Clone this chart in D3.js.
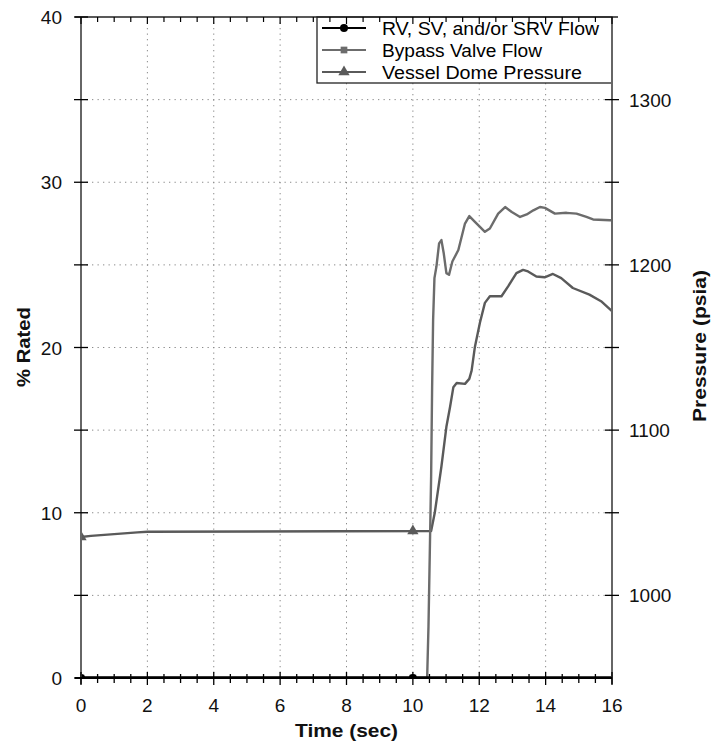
<!DOCTYPE html>
<html><head><meta charset="utf-8">
<script src="https://cdn.jsdelivr.net/npm/d3@7"></script>
<style>body{margin:0;background:#fff}svg{display:block}text{font-family:"Liberation Sans",Arial,sans-serif}</style>
</head><body>
<script>
// ---- data ----
const seriesNames = ["RV, SV, and/or SRV Flow", "Bypass Valve Flow", "Vessel Dome Pressure"];
const xTicks = [0,2,4,6,8,10,12,14,16];
const yLeftTicks = [0,10,20,30,40];
const yRightTicks = [1000,1100,1200,1300];
const markerTimes = [0,10];

const rvFlow = [[0,0],[16,0]];
const bypassFlow = [[0,0],[10.43,0],[10.47,3.1],[10.51,7.6],[10.55,12.2],[10.58,17.6],[10.61,21.7],[10.65,24.2],[10.71,24.9],[10.79,26.3],[10.86,26.5],[10.93,25.7],[11.01,24.5],[11.09,24.4],[11.19,25.2],[11.37,25.9],[11.57,27.5],[11.70,27.95],[11.87,27.6],[12.17,27.0],[12.32,27.2],[12.57,28.1],[12.78,28.5],[12.98,28.2],[13.23,27.9],[13.43,28.05],[13.63,28.3],[13.83,28.5],[13.98,28.45],[14.28,28.1],[14.63,28.15],[14.93,28.1],[15.23,27.9],[15.43,27.75],[15.94,27.7],[16,27.7]];
const domePressure = [[0,1035.3],[0.3,1036],[1.7,1038.1],[2,1038.5],[10.55,1039],[10.66,1050],[10.86,1078],[11.01,1102],[11.12,1114],[11.22,1126],[11.32,1128.5],[11.57,1128],[11.7,1131],[11.77,1136],[11.87,1150.5],[12.02,1165],[12.17,1177],[12.32,1181],[12.67,1181],[12.87,1187],[13.12,1195],[13.32,1197],[13.47,1196],[13.72,1193],[13.97,1192.5],[14.22,1194.5],[14.47,1192],[14.82,1186],[15.32,1182],[15.67,1178],[16,1172]];

// ---- layout ----
const W=720,H=747, L=81,R=612,T=17,B=678;
const svg=d3.select("body").append("svg").attr("width",W).attr("height",H);
const x=d3.scaleLinear().domain([0,16]).range([L,R]);
const yL=d3.scaleLinear().domain([0,40]).range([B,T]);
const yR=d3.scaleLinear().domain([950,1350]).range([B,T]);

svg.append("defs").append("clipPath").attr("id","clip").append("rect").attr("x",L).attr("y",T).attr("width",R-L).attr("height",B-T);

// grid
const grid=svg.append("g").attr("stroke","#8a8a8a").attr("stroke-width",1).attr("stroke-dasharray","1.3,4.2");
d3.range(2,16,2).forEach(v=>grid.append("line").attr("x1",x(v)).attr("x2",x(v)).attr("y1",T).attr("y2",B));
d3.range(5,40,5).forEach(v=>grid.append("line").attr("x1",L).attr("x2",R).attr("y1",yL(v)).attr("y2",yL(v)));

// series
const gS=svg.append("g").attr("clip-path","url(#clip)");
const lineL=d3.line().x(d=>x(d[0])).y(d=>yL(d[1]));
const lineR=d3.line().x(d=>x(d[0])).y(d=>yR(d[1]));
const colBypass="#6c6c6c", colPress="#5a5a5a";
gS.append("path").datum(domePressure).attr("d",lineR).attr("fill","none").attr("stroke",colPress).attr("stroke-width",2.4).attr("stroke-linejoin","round");
gS.append("path").datum(bypassFlow).attr("d",lineL).attr("fill","none").attr("stroke",colBypass).attr("stroke-width",2.4).attr("stroke-linejoin","round");
const interp=(arr,t)=>{for(let i=1;i<arr.length;i++){if(t<=arr[i][0]){const a=arr[i-1],b=arr[i];return a[1]+(b[1]-a[1])*(t-a[0])/(b[0]-a[0]);}}return arr[arr.length-1][1];};
const tri=d3.symbol().type(d3.symbolTriangle).size(55);
const sq=d3.symbol().type(d3.symbolSquare).size(45);
const circ=d3.symbol().type(d3.symbolCircle).size(50);
markerTimes.forEach(t=>{
  gS.append("path").attr("d",tri).attr("fill",colPress).attr("transform",`translate(${x(t)},${yR(interp(domePressure,t))})`);
  gS.append("path").attr("d",sq).attr("fill",colBypass).attr("transform",`translate(${x(t)},${yL(interp(bypassFlow,t))})`);
});
gS.append("path").datum(rvFlow).attr("d",lineL).attr("fill","none").attr("stroke","#000").attr("stroke-width",3.5);
markerTimes.forEach(t=>{
  gS.append("path").attr("d",circ).attr("fill","#000").attr("transform",`translate(${x(t)},${yL(0)})`);
});

// legend
const lg=svg.append("g");
lg.append("rect").attr("x",317).attr("y",T).attr("width",R-317).attr("height",66).attr("fill","#fff").attr("stroke","#222").attr("stroke-width",1.3);
const legCols=["#000",colBypass,colPress];
const legSyms=[circ,sq,tri];
const legLens=[217,160,200];
seriesNames.forEach((n,i)=>{
  const yy=28+i*22;
  lg.append("line").attr("x1",322).attr("x2",366).attr("y1",yy).attr("y2",yy).attr("stroke",legCols[i]).attr("stroke-width",i===0?2.2:2);
  lg.append("path").attr("d",legSyms[i]).attr("fill",legCols[i]).attr("transform",`translate(344,${yy})`);
  lg.append("text").attr("x",382).attr("y",yy+6.5).attr("font-size",17.5).attr("fill","#000")
    .attr("textLength",legLens[i]).attr("lengthAdjust","spacingAndGlyphs").text(n);
});

// axes lines
const ax=svg.append("g");
ax.append("line").attr("x1",L).attr("x2",L).attr("y1",T).attr("y2",B+6).attr("stroke","#666").attr("stroke-width",2);
ax.append("line").attr("x1",R).attr("x2",R).attr("y1",T).attr("y2",B+6).attr("stroke","#666").attr("stroke-width",2);
ax.append("line").attr("x1",L-6).attr("x2",R+6).attr("y1",T).attr("y2",T).attr("stroke","#222").attr("stroke-width",1.5);
ax.append("line").attr("x1",L-6).attr("x2",R).attr("y1",B).attr("y2",B).attr("stroke","#000").attr("stroke-width",2);

// ticks
d3.range(0,16.01,0.5).forEach(v=>{
  const major=Math.abs(v%2)<1e-6;
  ax.append("line").attr("x1",x(v)).attr("x2",x(v)).attr("y1",B-(major?6:4)).attr("y2",B+(major?7:5)).attr("stroke","#000").attr("stroke-width",1.3);
  ax.append("line").attr("x1",x(v)).attr("x2",x(v)).attr("y1",T).attr("y2",T+(major?7:5)).attr("stroke","#000").attr("stroke-width",1.2);
});
d3.range(0,40.01,5).forEach(v=>{
  ax.append("line").attr("x1",L-7).attr("x2",L+7).attr("y1",yL(v)).attr("y2",yL(v)).attr("stroke","#000").attr("stroke-width",1.3);
});
d3.range(1000,1350,50).forEach(v=>{
  ax.append("line").attr("x1",R-7).attr("x2",R+7).attr("y1",yR(v)).attr("y2",yR(v)).attr("stroke","#000").attr("stroke-width",1.3);
});

// tick labels
const fs=19;
xTicks.forEach(v=>ax.append("text").attr("x",x(v)).attr("y",B+34).attr("text-anchor","middle").attr("font-size",fs).attr("fill","#111").text(v));
yLeftTicks.forEach(v=>ax.append("text").attr("x",62).attr("y",yL(v)+7).attr("text-anchor","end").attr("font-size",fs).attr("fill","#111").text(v));
yRightTicks.forEach(v=>ax.append("text").attr("x",629).attr("y",yR(v)+7).attr("text-anchor","start").attr("font-size",fs).attr("fill","#111").text(v));

// titles
svg.append("text").attr("x",346.5).attr("y",737).attr("text-anchor","middle").attr("font-size",18.5).attr("font-weight","bold").attr("fill","#111")
  .attr("textLength",103).attr("lengthAdjust","spacingAndGlyphs").text("Time (sec)");
svg.append("text").attr("transform","translate(30,347) rotate(-90)").attr("text-anchor","middle").attr("font-size",18.5).attr("font-weight","bold").attr("fill","#111")
  .attr("textLength",80).attr("lengthAdjust","spacingAndGlyphs").text("% Rated");
svg.append("text").attr("transform","translate(706,346) rotate(-90)").attr("text-anchor","middle").attr("font-size",18.5).attr("font-weight","bold").attr("fill","#111")
  .attr("textLength",152).attr("lengthAdjust","spacingAndGlyphs").text("Pressure (psia)");
</script>
</body></html>
